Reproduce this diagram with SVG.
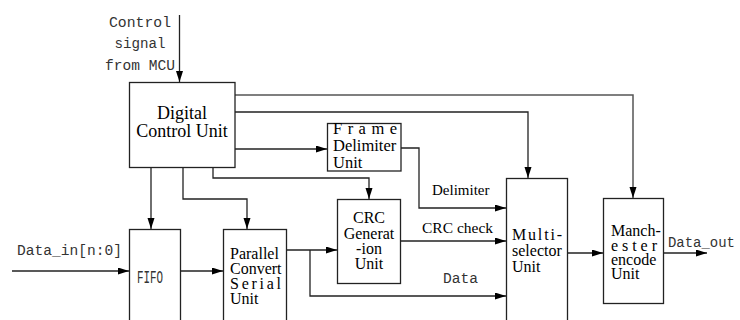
<svg xmlns="http://www.w3.org/2000/svg" width="740" height="320" viewBox="0 0 740 320">
<style>
.box{fill:#fff;stroke:#222;stroke-width:1.3}
.ln{fill:none;stroke:#222;stroke-width:1.3}
.lg{fill:none;stroke:#555;stroke-width:1.5}
.s{font-family:"Liberation Serif","Times New Roman",Times,serif;fill:#000}
.m{font-family:"Liberation Mono","Courier New",monospace;fill:#333}
</style>
<defs>
<marker id="ah" markerUnits="userSpaceOnUse" markerWidth="12" markerHeight="8" refX="11" refY="3.5" orient="auto">
<path d="M0,0 L11,3.5 L0,7 z" fill="#000"/>
</marker>
</defs>
<rect width="740" height="320" fill="#fff"/>
<g id="connectors">
<path class="ln" d="M179.5,15 V82" marker-end="url(#ah)"/>
<path class="lg" d="M235,95 H633 V198" marker-end="url(#ah)"/>
<path class="ln" d="M235,112 H528 V178" marker-end="url(#ah)"/>
<path class="ln" d="M235,149 H327" marker-end="url(#ah)"/>
<path class="ln" d="M151,168 V229" marker-end="url(#ah)"/>
<path class="ln" d="M183,168 V199 H247 V229" marker-end="url(#ah)"/>
<path class="ln" d="M213,168 V178 H369 V199" marker-end="url(#ah)"/>
<path class="ln" d="M12,271 H129" marker-end="url(#ah)"/>
<path class="ln" d="M181,271 H223" marker-end="url(#ah)"/>
<path class="ln" d="M287,250 H337" marker-end="url(#ah)"/>
<path class="ln" d="M310,250 V296 H506" marker-end="url(#ah)"/>
<path class="ln" d="M401,241 H506" marker-end="url(#ah)"/>
<path class="ln" d="M401,148 H419 V208 H506" marker-end="url(#ah)"/>
<path class="ln" d="M568,253 H603" marker-end="url(#ah)"/>
<path class="ln" d="M664,253 H707" marker-end="url(#ah)"/>
<text class="m" font-size="15.5" text-anchor="middle" x="140" y="27" textLength="62" lengthAdjust="spacingAndGlyphs">Control</text>
<text class="m" font-size="15.5" text-anchor="middle" x="140" y="48" textLength="51" lengthAdjust="spacingAndGlyphs">signal</text>
<text class="m" font-size="15.5" text-anchor="middle" x="140" y="70" textLength="70" lengthAdjust="spacingAndGlyphs">from MCU</text>
<text class="m" font-size="15.5" x="17" y="255" textLength="105" lengthAdjust="spacingAndGlyphs">Data_in[n:0]</text>
<text class="m" font-size="15.5" x="443" y="283" textLength="35" lengthAdjust="spacingAndGlyphs">Data</text>
<text class="m" font-size="15.5" x="668" y="247" textLength="67" lengthAdjust="spacingAndGlyphs">Data_out</text>
<text class="s" font-size="15" x="432" y="195">Delimiter</text>
<text class="s" font-size="15.5" x="422" y="233">CRC check</text>
</g>
<g id="dcu">
<rect class="box" x="129.5" y="82.5" width="105.5" height="85"/>
<text class="s" font-size="18" text-anchor="middle" x="182" y="119">Digital</text>
<text class="s" font-size="18" text-anchor="middle" x="182" y="137">Control Unit</text>
</g>
<g id="frame">
<rect class="box" x="327.5" y="123.5" width="73.5" height="47.5"/>
<text class="s" font-size="16.5" x="333" y="134" textLength="64" lengthAdjust="spacing">F r a m e</text>
<text class="s" font-size="16.5" x="333" y="151">Delimiter</text>
<text class="s" font-size="16.5" x="333" y="168">Unit</text>
</g>
<g id="fifo">
<rect class="box" x="129.5" y="229.5" width="51" height="100"/>
<text class="m" font-size="19" x="137" y="283" textLength="26" lengthAdjust="spacingAndGlyphs">FIFO</text>
</g>
<g id="parallel">
<rect class="box" x="223.5" y="229.5" width="63" height="100"/>
<text class="s" font-size="16" x="230" y="259">Parallel</text>
<text class="s" font-size="16" x="230" y="273.5">Convert</text>
<text class="s" font-size="16" x="230" y="288.5" textLength="51" lengthAdjust="spacing">S e r i a l</text>
<text class="s" font-size="16" x="230" y="303.5">Unit</text>
</g>
<g id="crc">
<rect class="box" x="337.5" y="199.5" width="63" height="84"/>
<text class="s" font-size="16" text-anchor="middle" x="369" y="223">CRC</text>
<text class="s" font-size="16" text-anchor="middle" x="369" y="238.5">Generat</text>
<text class="s" font-size="16" text-anchor="middle" x="369" y="254">-ion</text>
<text class="s" font-size="16" text-anchor="middle" x="369" y="269">Unit</text>
</g>
<g id="multi">
<rect class="box" x="506.5" y="178.5" width="61" height="150"/>
<text class="s" font-size="16" x="512" y="240" textLength="50" lengthAdjust="spacing">Multi-</text>
<text class="s" font-size="16" x="512" y="256">selector</text>
<text class="s" font-size="16" x="512" y="272">Unit</text>
</g>
<g id="manchester">
<rect class="box" x="603.5" y="198.5" width="60" height="105"/>
<text class="s" font-size="16" x="611" y="236">Manch-</text>
<text class="s" font-size="16" x="611" y="251" textLength="46" lengthAdjust="spacing">e s t e r</text>
<text class="s" font-size="16" x="611" y="265">encode</text>
<text class="s" font-size="16" x="611" y="279">Unit</text>
</g>
</svg>
